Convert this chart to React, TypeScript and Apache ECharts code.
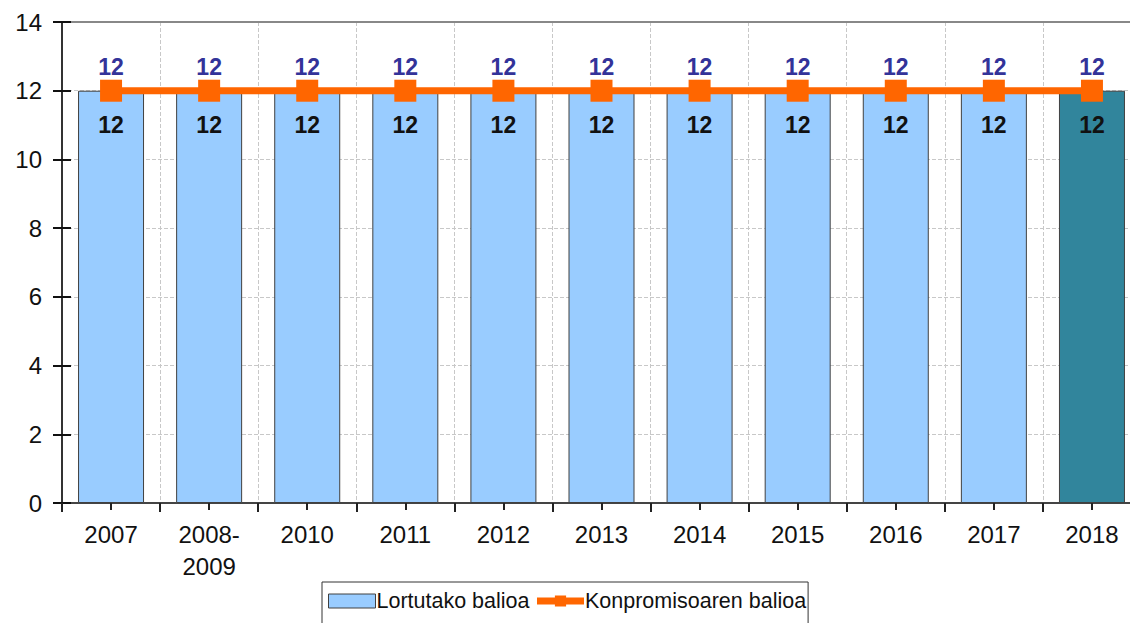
import React, { useEffect, useRef } from "react";
import * as echarts from "echarts";

const categories = ["2007", "2008-\n2009", "2010", "2011", "2012", "2013", "2014", "2015", "2016", "2017", "2018"];
const achievedValues = [12, 12, 12, 12, 12, 12, 12, 12, 12, 12, 12];
const commitmentValues = [12, 12, 12, 12, 12, 12, 12, 12, 12, 12, 12];
const seriesNames = ["Lortutako balioa", "Konpromisoaren balioa"];

const FONT = "'Liberation Sans', Arial, sans-serif";

export default function App() {
  const ref = useRef<HTMLDivElement>(null);
  useEffect(() => {
    if (!ref.current) return;
    const chart = echarts.init(ref.current, null, { renderer: "svg" });
    const lastIdx = categories.length - 1;
    chart.setOption({
      animation: false,
      textStyle: { fontFamily: FONT },
      grid: { left: 62, right: 0, top: 22, bottom: 120 },
      legend: {
        left: 322,
        top: 582,
        data: [
          { name: seriesNames[0], icon: "rect", itemStyle: { color: "#99CCFF", borderColor: "#404040", borderWidth: 1 } },
          { name: seriesNames[1], lineStyle: { width: 7, color: "#FF6600" }, itemStyle: { color: "#FF6600" } },
        ],
        orient: "horizontal",
        borderColor: "#333",
        borderWidth: 1,
        padding: [8, 2, 30, 6],
        itemGap: 4,
        itemWidth: 47,
        itemHeight: 14,
        textStyle: { fontFamily: FONT, fontSize: 21.5, color: "#111", padding: [0, 0, 0, -4] },
      },
      xAxis: [
        {
          type: "category",
          data: categories,
          position: "bottom",
          axisLine: { show: true, lineStyle: { color: "#444", width: 2 } },
          axisTick: { show: true, interval: 0, alignWithLabel: false, length: 9, lineStyle: { color: "#222", width: 2 } },
          axisLabel: { interval: 0, fontSize: 24, color: "#111", margin: 15, lineHeight: 32, fontFamily: FONT },
          splitLine: { show: true, interval: 0, lineStyle: { color: "#c8c8c8", type: "dashed", width: 1 } },
        },
        {
          type: "category",
          data: categories,
          position: "bottom",
          axisLine: { show: false },
          axisTick: { show: true, interval: 0, alignWithLabel: true, length: 7, lineStyle: { color: "#222", width: 2 } },
          axisLabel: { show: false },
          splitLine: { show: false },
        },
        {
          type: "category",
          data: categories,
          position: "top",
          axisLine: { show: true, lineStyle: { color: "#888", width: 2 } },
          axisTick: { show: false },
          axisLabel: { show: false },
          splitLine: { show: false },
        },
      ],
      yAxis: [
        {
          type: "value",
          min: 0,
          max: 14,
          interval: 2,
          axisLine: { show: true, lineStyle: { color: "#333", width: 2 } },
          axisTick: { show: true, length: 9, lineStyle: { color: "#111", width: 2 } },
          axisLabel: { fontSize: 24, color: "#111", margin: 20, fontFamily: FONT },
          splitLine: { show: true, lineStyle: { color: "#c8c8c8", type: "dashed", width: 1 } },
        },
        {
          type: "value",
          min: 0,
          max: 14,
          interval: 2,
          position: "left",
          axisLine: { show: false },
          axisTick: { show: true, inside: true, length: 9, lineStyle: { color: "#111", width: 2 } },
          axisLabel: { show: false },
          splitLine: { show: false },
        },
      ],
      series: [
        {
          name: seriesNames[0],
          type: "bar",
          xAxisIndex: 0,
          yAxisIndex: 0,
          barWidth: 66,
          data: achievedValues.map((v, i) => ({
            value: v,
            itemStyle: i === lastIdx ? { color: "#31859C" } : undefined,
          })),
          itemStyle: { color: "#99CCFF", borderColor: "#404040", borderWidth: 1 },
          label: {
            show: true,
            position: "insideTop",
            distance: 23,
            fontSize: 23,
            fontWeight: "bold",
            color: "#111",
            fontFamily: FONT,
          },
          z: 2,
        },
        {
          name: seriesNames[1],
          type: "line",
          xAxisIndex: 0,
          yAxisIndex: 0,
          data: commitmentValues,
          symbol: "rect",
          symbolSize: 22,
          lineStyle: { color: "#FF6600", width: 7 },
          itemStyle: { color: "#FF6600" },
          label: {
            show: true,
            position: "top",
            distance: 1,
            fontSize: 23,
            fontWeight: "bold",
            color: "#333399",
            fontFamily: FONT,
          },
          z: 5,
        },
      ],
    });
    return () => chart.dispose();
  }, []);
  return (
    <div style={{ position: "absolute", left: 0, top: 0, width: 1130, height: 623, overflow: "hidden", background: "#fff" }}>
      <div ref={ref} style={{ width: 1141, height: 623 }} />
    </div>
  );
}
